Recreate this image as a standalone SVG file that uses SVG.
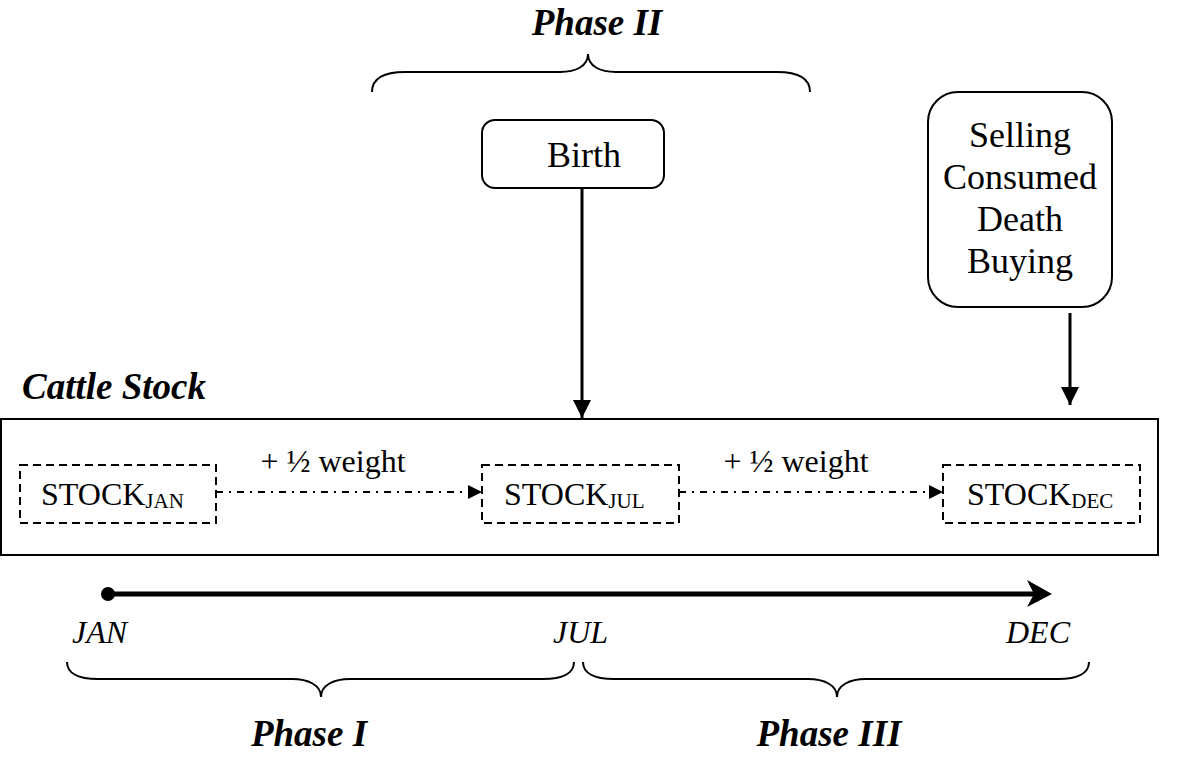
<svg xmlns="http://www.w3.org/2000/svg" width="1181" height="762" viewBox="0 0 1181 762">
  <style>
    text { font-family: "Liberation Serif", "Times New Roman", serif; fill: #000; }
    .phase { font-size: 37px; font-weight: bold; font-style: italic; }
    .boxtxt { font-size: 36px; text-anchor: middle; }
    .stock { font-size: 32px; }
    .sub { font-size: 21px; }
    .lbl { font-size: 32px; }
    .month { font-size: 32px; font-style: italic; }
    .brace { fill: none; stroke: #000; stroke-width: 2; }
    .rbox { fill: #fff; stroke: #000; stroke-width: 2; }
    .dbox { fill: none; stroke: #000; stroke-width: 2; stroke-dasharray: 8 5; }
    .flow { fill: none; stroke: #000; stroke-width: 3; }
    .dashdot { fill: none; stroke: #000; stroke-width: 1.8; stroke-dasharray: 7 6 2 6; }
  </style>
  <defs>
    <marker id="head" markerUnits="userSpaceOnUse" markerWidth="18" markerHeight="18" viewBox="0 0 16 16" refX="16" refY="8" orient="auto">
      <path d="M0,0 L16,8 L0,16 Z" fill="#000"/>
    </marker>
    <marker id="small" markerUnits="userSpaceOnUse" markerWidth="14" markerHeight="14" viewBox="0 0 14 14" refX="14" refY="7" orient="auto">
      <path d="M0,0 L14,7 L0,14 Z" fill="#000"/>
    </marker>
  </defs>

  <!-- phase II heading and brace -->
  <g id="phase2">
    <text class="phase" x="597" y="35" text-anchor="middle">Phase II</text>
    <path class="brace" d="M372,92 C372,78 385,72 405,72 L560,72 C576,72 588,66 588,54 C588,66 600,72 616,72 L777,72 C797,72 810,78 810,92"/>
  </g>

  <!-- birth inflow -->
  <g id="birth">
    <rect class="rbox" x="482" y="120" width="182" height="68" rx="13"/>
    <text class="boxtxt" x="584" y="167">Birth</text>
  </g>

  <!-- outflows / purchases -->
  <g id="changes">
    <rect class="rbox" x="928" y="92" width="184" height="215" rx="30"/>
    <text class="boxtxt" x="1020" y="147">Selling</text>
    <text class="boxtxt" x="1020" y="189">Consumed</text>
    <text class="boxtxt" x="1020" y="231">Death</text>
    <text class="boxtxt" x="1020" y="273">Buying</text>
  </g>

  <!-- cattle stock container -->
  <g id="cattle-stock">
    <text class="phase" x="22" y="399">Cattle Stock</text>
    <rect x="1" y="419" width="1157" height="136" fill="none" stroke="#000" stroke-width="2"/>
  </g>

  <g id="stock-jan">
    <rect class="dbox" x="20" y="465" width="196" height="58"/>
    <text class="stock" x="41" y="505">STOCK<tspan class="sub" dy="3">JAN</tspan></text>
  </g>
  <g id="stock-jul">
    <rect class="dbox" x="482" y="465" width="197" height="58"/>
    <text class="stock" x="504" y="505">STOCK<tspan class="sub" dy="3">JUL</tspan></text>
  </g>
  <g id="stock-dec">
    <rect class="dbox" x="943" y="465" width="197" height="58"/>
    <text class="stock" x="967" y="505">STOCK<tspan class="sub" dy="3">DEC</tspan></text>
  </g>

  <!-- connectors -->
  <g id="connectors">
    <line class="flow" x1="582" y1="188" x2="582" y2="418" marker-end="url(#head)"/>
    <line class="flow" x1="1070" y1="313" x2="1070" y2="405" marker-end="url(#head)"/>
    <line class="dashdot" x1="216" y1="492" x2="482" y2="492" marker-end="url(#small)"/>
    <line class="dashdot" x1="679" y1="492" x2="943" y2="492" marker-end="url(#small)"/>
    <text class="lbl" x="333" y="472" text-anchor="middle">+ ½ weight</text>
    <text class="lbl" x="796" y="472" text-anchor="middle">+ ½ weight</text>
  </g>

  <!-- time axis -->
  <g id="timeline">
    <circle cx="108" cy="594" r="7" fill="#000"/>
    <line x1="108" y1="594" x2="1036" y2="594" stroke="#000" stroke-width="5"/>
    <path d="M1052,594 L1027,580 L1034,594 L1027,607 Z" fill="#000"/>
    <text class="month" x="72" y="643">JAN</text>
    <text class="month" x="553" y="643">JUL</text>
    <text class="month" x="1006" y="643">DEC</text>
  </g>

  <!-- phase I and III braces -->
  <g id="phase1">
    <path class="brace" d="M67,662 C67,673 78,679 98,679 L292,679 C308,679 321,685 321,697 C321,685 334,679 350,679 L543,679 C563,679 574,673 574,662"/>
    <text class="phase" x="309" y="746" text-anchor="middle">Phase I</text>
  </g>
  <g id="phase3">
    <path class="brace" d="M583,662 C583,673 594,679 614,679 L808,679 C824,679 837,685 837,697 C837,685 850,679 866,679 L1058,679 C1078,679 1089,673 1089,662"/>
    <text class="phase" x="829" y="746" text-anchor="middle">Phase III</text>
  </g>
</svg>
